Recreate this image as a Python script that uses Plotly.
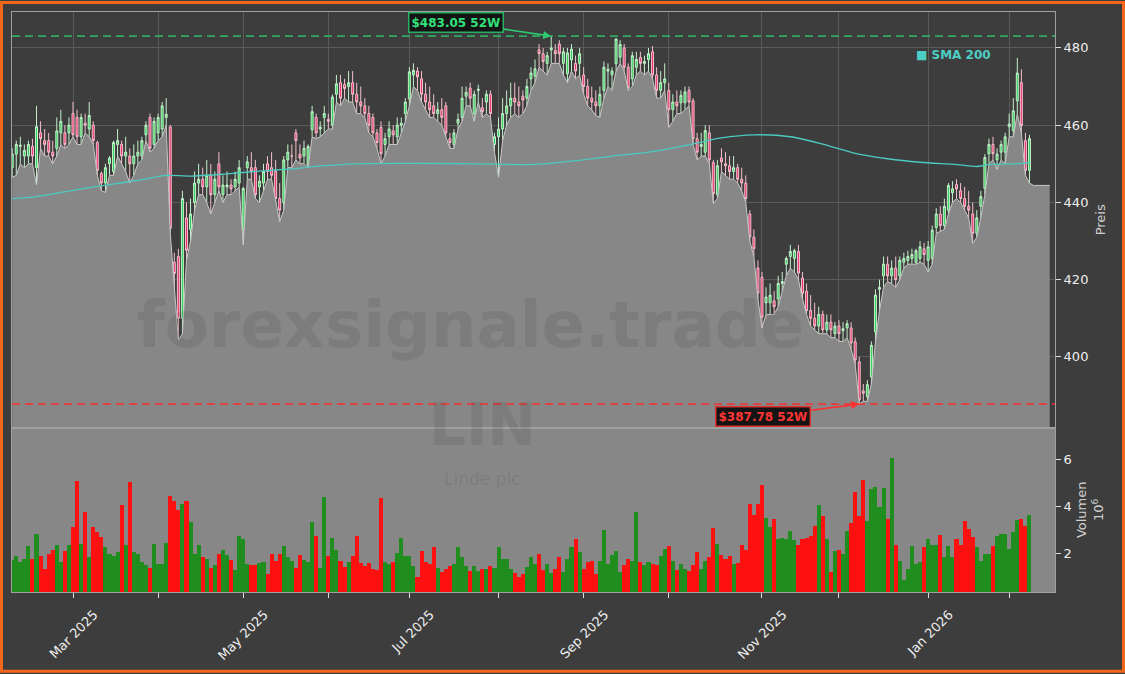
import pandas as pd
import plotly.graph_objects as go
from plotly.subplots import make_subplots

# ---------------- data ----------------
HOLIDAYS = ["2025-02-17", "2025-04-18", "2025-05-26", "2025-06-19", "2025-07-04",
            "2025-09-01", "2025-11-27", "2025-12-25", "2026-01-01", "2026-01-19"]
dates = [d.strftime("%Y-%m-%d") for d in pd.bdate_range("2025-02-07", "2026-02-09")
         if d.strftime("%Y-%m-%d") not in HOLIDAYS]
future_dates = ["2026-02-10", "2026-02-11", "2026-02-12", "2026-02-13", "2026-02-17"]
tail_dates = ["2026-02-10", "2026-02-17"]
tail_values = [444.4, 444.4]

open_ = [
    449, 452.5, 454.5, 452, 452, 454.5, 449, 458, 456, 456, 453, 454, 458, 458, 458, 463,
    462, 457, 460.5, 459, 460, 455.5, 447.5, 445, 450, 448, 455, 455, 452, 452, 450, 452, 452, 457.5, 462, 455, 458,
    459, 462, 459.6, 424.5, 426, 410, 436, 433, 440, 445, 446, 444, 447, 442, 450, 442, 444, 444.5, 444, 445, 433,
    449, 449, 449, 444, 445, 450, 449, 448, 441, 440, 451, 452, 458, 452.5, 452, 449.6, 458.8, 462, 459, 462, 461.5,
    460, 468, 471, 470.5, 470, 471, 468, 466, 465, 463, 462, 458, 459.4, 455, 457, 458.5, 457, 460, 463, 466.8,
    473, 474, 472, 468, 466, 465, 463, 464, 465, 456.5, 455, 460.5, 462, 467.5, 469.6, 463, 469, 464.5, 466, 468, 455, 457,
    459, 463, 465, 467, 466, 467.5, 467, 472, 472.7, 479.5, 478.5, 476, 479.5, 479.3, 481, 476, 473.3, 476.9, 476, 476, 473,
    470, 467, 466, 465, 469, 474, 473, 475.9, 477.6, 480, 475, 472, 475, 477.5, 476, 477, 479, 473, 469, 471, 469,
    464, 466, 465.8, 465.8, 469, 466.3, 456.5, 454.5, 453, 458, 450.3, 442, 451.5, 450, 449.5, 448, 449, 446, 445, 437, 431, 423,
    420.6, 414, 414, 414.5, 415, 419, 424, 426, 425.5, 427.3, 420.4, 417, 412, 410, 408, 411, 407, 409, 406,
    408, 406.8, 407.5, 407.5, 403.9, 398.7, 391.2, 389.7, 394.8, 406.5, 417.5, 421, 424, 421, 423, 421, 424.5, 425, 425.5, 424.5, 425.5, 428,
    425, 425.5, 433.5, 437, 434, 438, 442.5, 444.6, 443, 441, 439, 437, 432, 439, 443.6, 452.6, 455, 451, 453, 453,
    459.6, 458.6, 466.3, 471, 456, 448.3,
]
high = [
    454, 456, 457, 455, 456, 456.5, 465, 461, 459, 458, 456, 462, 464, 460, 462, 466,
    464, 463, 463, 466, 461, 456, 448, 450, 452, 456, 459, 456, 457, 454, 455, 456, 457, 461, 463, 462, 463,
    466, 467, 460, 427, 428, 443, 440, 441, 448, 450, 449, 451, 450, 448, 453, 447, 448, 446, 448, 451, 444,
    452, 453, 451, 447, 450, 452, 453, 451, 445, 452, 455, 455, 459, 455, 456, 455, 465, 463, 461, 465, 463,
    468, 473, 473, 472, 474, 474, 471, 470, 467, 465, 463, 459, 461, 458, 461, 460, 462, 462, 467, 475,
    476, 475, 474, 471, 470, 468, 466, 467, 466, 458, 459, 463, 470, 470, 471, 469, 470.5, 467, 469, 469, 458, 462,
    467, 469, 471, 471, 470, 469, 472, 475, 477, 481, 480, 479, 483.05, 481, 482, 480, 480, 481, 478, 480, 475,
    472, 470, 469, 470, 476.5, 476, 475, 482.5, 482, 481, 476, 479, 479, 479, 478, 480, 480.5, 475, 474, 476, 471,
    468, 469, 469, 470, 470, 467, 458, 458, 460, 460, 451, 451, 454, 453, 452, 452, 450, 449, 447, 438, 433, 425,
    422, 418, 419, 417, 421, 422, 426, 429, 428, 429, 422, 419, 416, 414, 413, 412, 411, 411, 409,
    409.5, 409, 409.5, 409, 405, 400, 393, 394, 404, 417.5, 420, 426, 426, 425, 426, 426, 427, 427.5, 428, 428, 430, 429.5,
    430, 434, 438.5, 439, 441, 445, 445.5, 446, 445, 444, 443, 440, 438, 443, 452.5, 456.5, 457, 454, 456, 458,
    463, 467, 477.4, 474.5, 458, 457.5,
]
low = [
    446.5, 447, 450, 449, 450, 450, 444.5, 454, 452, 452, 450, 452, 455, 454, 455, 457,
    455, 455, 458, 457, 455, 447, 443, 442.6, 447, 447, 452, 450, 448, 445, 447, 450, 451, 456, 453, 454, 456,
    457, 460, 432, 418, 404.4, 406, 425, 430, 438, 442, 442, 440, 437, 440, 443, 440, 442, 442, 443, 444, 429,
    446, 446, 441, 440, 443, 446, 446, 440, 435, 438, 449, 449, 451, 450, 450, 449, 457, 456.5, 457, 458, 459,
    459, 466, 465, 467, 466, 466, 463, 463, 462, 458, 457, 454, 450, 452, 455, 455, 455, 458, 461, 465,
    470, 469, 466, 464, 462, 462, 461, 460, 457, 454, 454, 459, 461, 465, 465, 461, 466, 462, 463, 462, 453, 446.5,
    456, 460, 462, 463, 462, 463, 465, 469, 471, 475, 474, 473, 476, 476, 476, 473, 471, 474, 472, 473, 468,
    465, 464, 462.5, 462, 467, 470, 469, 474, 476, 474, 469, 470, 473, 474, 473, 474, 472, 467, 467, 469, 459.4,
    461, 463, 463, 464, 465, 455, 451, 452, 452, 450, 439.7, 441, 448, 447, 446, 446, 445, 443, 440, 430, 426, 415,
    407.5, 411, 411, 411, 413, 417, 421, 423, 422, 420, 415, 411, 408, 407, 406, 406, 406, 405, 405,
    404, 404, 405, 402, 398, 387.78, 388.5, 388.5, 393, 404, 412, 418, 419.5, 419, 418, 420, 423, 424, 424, 424, 424.5, 424,
    422, 424, 432, 432.5, 433, 437, 440, 441, 440, 438, 436, 429.4, 431, 436, 442, 450, 451, 448.5, 451, 450,
    457, 457, 463, 458, 447, 445,
]
close = [
    452.5, 455, 454.8, 453.5, 455, 452, 459.6, 456.5, 455, 453, 452, 458.5, 461, 455, 460, 457.5,
    457, 462, 460, 462.5, 456, 448.3, 445, 449, 451.5, 455.5, 456, 452, 453, 450, 452, 453, 456, 460, 454, 461, 462,
    465, 462.8, 433.3, 421.6, 410, 441, 427.6, 437, 445, 446, 444, 447, 442, 446, 444, 444.5, 444.5, 443.5, 446, 449, 443.6,
    450.5, 448, 442, 445.5, 448, 448, 447, 441, 438, 451, 453, 452, 456, 451.5, 454, 454.5, 463.5, 458, 459.5, 463, 461,
    467.3, 470.7, 467, 469.5, 471, 468, 466, 465, 463, 460, 458, 455.5, 452.6, 456.5, 459, 457.5, 460, 460.5, 466, 473.8,
    474.2, 472.5, 468, 466, 464, 463, 464, 462, 458, 455.5, 458, 461.5, 467, 468.5, 467, 468, 469.3, 463.5, 468, 463, 457, 459,
    463, 465, 467, 466, 465, 466.5, 470, 473.5, 474.6, 478.5, 476.5, 478, 480, 478.5, 478.5, 479, 478.7, 479.7, 474, 478.5, 470,
    467, 466, 465, 468, 475, 474.5, 474, 482.3, 480.9, 475, 469.7, 478, 477, 476, 476.5, 478.5, 473, 469, 471, 472, 464,
    466, 465, 467.7, 468.6, 466, 456.5, 453, 455, 458.6, 451, 442.3, 449.5, 450.5, 449.5, 448, 449, 446, 445, 441, 431, 428, 416.5,
    410.3, 415.5, 416, 413, 419, 419.5, 425.5, 427.3, 427.5, 421.7, 416.5, 412, 410, 408, 411, 407, 409, 407, 408,
    406, 407.3, 408.6, 403.6, 399.2, 388.9, 390.6, 392.8, 403, 416, 418, 424, 421, 423, 420, 425, 425.5, 426, 426.5, 427.5, 428.5, 426.5,
    428.5, 432.8, 437, 434, 439, 444.4, 443.5, 443.5, 441, 439, 438, 432, 436, 441.5, 451.6, 455, 452.6, 452.5, 455, 457,
    460.3, 463.7, 473.5, 459.9, 448.3, 456.5,
]
volume_m = [
    1.72, 1.9, 1.64, 1.75, 2.31, 1.75, 2.85, 1.9, 1.36, 1.99, 2.16, 2.37, 1.64, 2.1, 2.37, 3.12,
    5.08, 2.41, 3.76, 1.87, 3.15, 2.9, 2.69, 2.27, 1.97, 1.9, 2.07, 4.08, 2.35, 5.04, 2.07, 2.0,
    1.66, 1.53, 1.38, 2.41, 1.56, 1.56, 2.45, 4.47, 4.23, 3.85, 4.13, 4.25, 3.36, 1.97, 2.35, 1.87,
    1.78, 1.38, 1.5, 1.99, 2.16, 1.92, 1.72, 1.31, 2.74, 2.6, 1.56, 1.5, 1.5, 1.6, 1.64, 1.11,
    1.99, 1.69, 1.99, 2.33, 1.87, 1.69, 1.37, 1.92, 1.72, 1.66, 3.36, 2.74, 1.38, 4.4, 1.9, 2.67,
    2.16, 1.69, 1.41, 1.66, 1.9, 2.77, 1.6, 1.47, 1.6, 1.33, 1.31, 4.38, 1.65, 1.55, 1.66, 2.03,
    2.67, 1.9, 1.9, 1.47, 0.99, 2.1, 1.66, 1.56, 2.3, 1.37, 1.2, 1.35, 1.48, 1.56, 2.3, 1.85,
    1.45, 1.24, 1.45, 1.24, 1.33, 1.33, 1.45, 1.37, 2.28, 1.75, 1.75, 1.33, 1.17, 0.99, 1.11, 1.43,
    1.85, 1.56, 1.99, 1.28, 1.56, 1.17, 1.33, 1.85, 1.2, 1.75, 2.3, 2.63, 2.07, 1.33, 1.66, 1.69,
    1.11, 1.69, 3.02, 1.56, 1.93, 2.1, 1.2, 1.53, 1.75, 1.69, 3.79, 1.63, 1.5, 1.63, 1.56, 1.53,
    1.9, 2.2, 2.33, 1.69, 1.28, 1.56, 1.33, 1.24, 1.53, 2.07, 1.33, 1.69, 1.87, 3.07, 2.41, 1.93,
    1.77, 1.9, 1.56, 1.6, 2.37, 2.16, 4.13, 3.66, 4.13, 4.94, 3.53, 3.13, 3.49, 2.6, 2.67, 2.6,
    2.95, 2.57, 2.37, 2.6, 2.65, 2.75, 3.16, 4.08, 3.61, 2.6, 1.2, 2.1, 2.16, 1.99, 2.95, 3.3,
    4.61, 3.61, 5.15, 3.4, 4.76, 4.83, 3.99, 4.8, 3.47, 6.08, 2.37, 1.69, 0.88, 1.35, 2.31, 1.54,
    1.64, 2.27, 2.64, 2.37, 2.37, 2.81, 1.85, 2.33, 1.85, 2.6, 2.37, 3.37, 3.06, 2.7, 2.28, 1.69,
    1.99, 1.96, 2.34, 2.77, 2.85, 2.84, 2.2, 2.9, 3.43, 3.48, 3.18, 3.65,
]
sma_dates = ["2025-02-07", "2025-02-18", "2025-03-04", "2025-03-14", "2025-03-26", "2025-04-03",
             "2025-04-11", "2025-04-25", "2025-05-07", "2025-05-19", "2025-05-30", "2025-06-10",
             "2025-07-02", "2025-07-25", "2025-08-13", "2025-09-02", "2025-09-12", "2025-09-24",
             "2025-10-07", "2025-10-20", "2025-10-30", "2025-11-12", "2025-11-24", "2025-12-05",
             "2025-12-17", "2025-12-30", "2026-01-13", "2026-01-21", "2026-01-26", "2026-02-05",
             "2026-02-09"]
sma_values = [441.0, 441.5, 443.3, 444.6, 445.9, 447.0, 446.8, 447.4, 448.1, 448.7, 449.5, 450.0,
              450.1, 450.0, 449.8, 451.0, 452.1, 453.0, 454.7, 456.7, 457.5, 457.0, 455.1, 452.7,
              451.3, 450.4, 449.8, 449.3, 449.8, 450.1, 450.4]
label_months = ["Mar 2025", "May 2025", "Jul 2025", "Sep 2025", "Nov 2025", "Jan 2026"]

assert len(dates) == len(open_) == len(high) == len(low) == len(close) == len(volume_m)

# ---------------- derived ----------------
categories = dates + future_dates
month_first = []
seen = set()
for d in dates:
    ym = d[:7]
    if ym not in seen:
        seen.add(ym)
        month_first.append(d)
month_first = month_first[1:]  # first data month is partial
tick_text = []
for d in month_first:
    lab = pd.Timestamp(d).strftime("%b %Y")
    tick_text.append(lab if lab in label_months else " ")

vol_colors = ["#1f8e1f" if c >= o else "#fc1010" for o, c in zip(open_, close)]
i_hi = max(range(len(high)), key=lambda i: high[i])
i_lo = min(range(len(low)), key=lambda i: low[i])

# ---------------- layout constants ----------------
W, H = 1125, 674
ML, MR, MT, MB = 12, 70, 11, 81
PW, PH = W - ML - MR, H - MT - MB
BG = "#3d3d3d"
FONT = "DejaVu Sans"
WM = "rgba(60,60,60,0.14)"

fig = make_subplots(rows=2, cols=1, shared_xaxes=True, vertical_spacing=0,
                    row_heights=[0.7165, 0.2835])

fig.add_trace(go.Scatter(x=dates + tail_dates, y=low + tail_values, mode="lines",
                         line=dict(color="#c8c8c8", width=1), fill="tozeroy",
                         fillcolor="#878787", hoverinfo="skip"), row=1, col=1)
fig.add_trace(go.Scatter(x=sma_dates, y=sma_values, mode="lines",
                         line=dict(color="#4cc9c0", width=1.3, shape="spline", smoothing=0.8),
                         name="SMA 200"), row=1, col=1)
fig.add_trace(go.Candlestick(x=dates, open=open_, high=high, low=low, close=close,
                             increasing=dict(line=dict(color="#c4f0cb", width=1), fillcolor="#2fd055"),
                             decreasing=dict(line=dict(color="#f4c0cd", width=1), fillcolor="#e8336a"),
                             whiskerwidth=0), row=1, col=1)
fig.add_trace(go.Bar(x=dates, y=volume_m, marker=dict(color=vol_colors, line=dict(width=0))),
              row=2, col=1)

common_x = dict(type="category", categoryorder="array", categoryarray=categories,
                range=[-0.05, 257.3], tickvals=month_first, ticktext=tick_text,
                showline=True, mirror=True, linecolor="#a0a0a0", linewidth=1)
fig.update_layout(
    xaxis=dict(**common_x, showgrid=True, gridcolor="#5a5a5a", gridwidth=1,
               showticklabels=False, ticks="", rangeslider=dict(visible=False)),
    xaxis2=dict(**common_x, showgrid=False, ticks="outside", ticklen=5, tickcolor="#dddddd",
                tickangle=-45, ticklabelshift=21, ticklabelstandoff=4,
                tickfont=dict(family=FONT, size=13, color="#eeeeee")),
    yaxis=dict(side="right", range=[381.7, 489.3], tick0=400, dtick=20, ticks="outside",
               ticklen=5, tickcolor="#dddddd", showgrid=True, gridcolor="#5a5a5a",
               showline=True, mirror=True, linecolor="#a0a0a0", zeroline=False,
               tickfont=dict(family=FONT, size=13, color="#eeeeee"),
               title=dict(text="Preis", standoff=8, font=dict(family=FONT, size=13, color="#d0d0d0"))),
    yaxis2=dict(side="right", range=[0.34, 7.36], tickvals=[2, 4, 6], ticks="outside",
                ticklen=5, tickcolor="#dddddd", showgrid=False, zeroline=False,
                showline=True, mirror=True, linecolor="#a0a0a0",
                tickfont=dict(family=FONT, size=13, color="#eeeeee"),
                title=dict(text="Volumen<br>10<sup>6</sup>", standoff=6,
                           font=dict(family=FONT, size=13, color="#d0d0d0"))),
    width=W, height=H, margin=dict(l=ML, r=MR, t=MT, b=MB),
    paper_bgcolor=BG, plot_bgcolor=BG, showlegend=False, bargap=0,
    font=dict(family=FONT, color="#eeeeee"),
)

shapes = [
    dict(type="rect", xref="x2 domain", yref="y2 domain", x0=0, x1=1, y0=0, y1=1,
         fillcolor="#878787", line=dict(width=0), layer="below"),
    dict(type="line", xref="x domain", yref="y", x0=0, x1=1, y0=high[i_hi], y1=high[i_hi],
         line=dict(color="rgba(46,204,113,0.75)", width=1.6, dash="8px,5px")),
    dict(type="line", xref="x domain", yref="y", x0=0, x1=1, y0=low[i_lo], y1=low[i_lo],
         line=dict(color="rgba(255,40,40,0.8)", width=1.6, dash="8px,5px")),
    dict(type="rect", xref="paper", yref="paper",
         x0=(1.5 - ML) / PW, x1=(W - 1.5 - ML) / PW,
         y0=(PH + MT - (H - 1.5)) / PH, y1=(PH + MT - 1.5) / PH,
         line=dict(color="#f2661c", width=3)),
]
fig.update_layout(shapes=shapes)

annotations = [
    dict(xref="x", yref="y", x=dates[i_hi], y=high[i_hi], text=f"<b>${high[i_hi]:.2f} 52W</b>",
         showarrow=True, ax=-95, ay=-14, arrowhead=2, arrowsize=1, arrowwidth=1.6,
         arrowcolor="#2ecc71", font=dict(family=FONT, size=12, color="#33e07a"),
         bgcolor="#141414", bordercolor="#27ae60", borderwidth=1.5, borderpad=2),
    dict(xref="x", yref="y", x=dates[i_lo], y=low[i_lo], text=f"<b>${low[i_lo]:.2f} 52W</b>",
         showarrow=True, ax=-96, ay=12, arrowhead=2, arrowsize=1, arrowwidth=1.6,
         arrowcolor="#ff3030", font=dict(family=FONT, size=12, color="#ff3535"),
         bgcolor="#141414", bordercolor="#d93030", borderwidth=1.5, borderpad=2),
    dict(xref="paper", yref="paper", x=(914 - ML) / PW, y=(PH + MT - 54) / PH, xanchor="left",
         yanchor="middle", showarrow=False, text="<b>■ SMA 200</b>",
         font=dict(family=FONT, size=12, color="#4ecdc4")),
    dict(xref="paper", yref="paper", x=(470 - ML) / PW, y=(PH + MT - 325) / PH, showarrow=False,
         text="<b>forexsignale.trade</b>", font=dict(family=FONT, size=64, color=WM)),
    dict(xref="paper", yref="paper", x=(482 - ML) / PW, y=(PH + MT - 462) / PH, showarrow=False,
         text="<b>LIN</b>", font=dict(family=FONT, size=58, color=WM)),
    dict(xref="paper", yref="paper", x=(482 - ML) / PW, y=(PH + MT - 492) / PH, showarrow=False,
         text="Linde plc", font=dict(family=FONT, size=17, color=WM)),
]
fig.update_layout(annotations=annotations)

fig.write_html("out.html", include_plotlyjs=True, config={"displayModeBar": False},
               post_script="document.body.style.margin='0px';document.body.style.padding='0px';"
                           "document.body.style.overflow='hidden';document.body.style.background='" + BG + "';")
